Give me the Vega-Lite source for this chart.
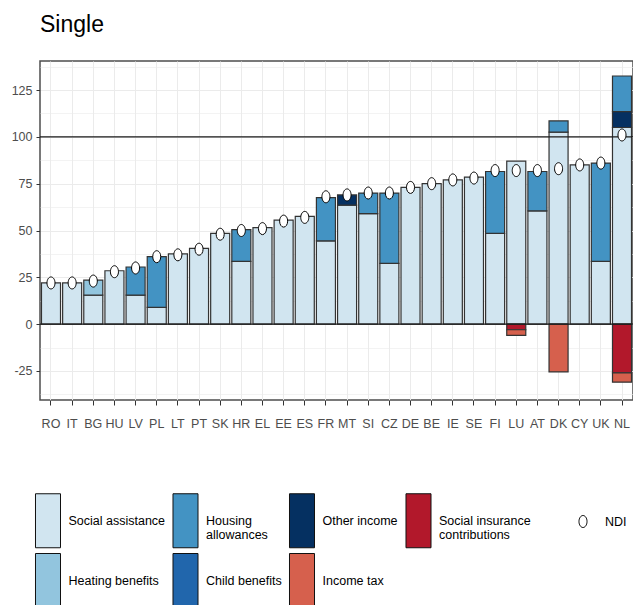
{
  "$schema": "https://vega.github.io/schema/vega-lite/v6.json",
  "width": 593,
  "height": 339,
  "padding": {"left": 0, "top": 14, "right": 0, "bottom": 0},
  "autosize": {"type": "pad"},
  "config": {
    "font": "Liberation Sans",
    "locale": {"number": {"decimal": ".", "thousands": ",", "grouping": [3], "currency": ["$", ""], "minus": "-"}},
    "view": {"stroke": "#4d4d4d", "strokeWidth": 1.5},
    "axis": {
      "labelFont": "Liberation Sans",
      "labelFontSize": 12.5,
      "labelColor": "#4d4d4d",
      "ticks": true,
      "tickColor": "#333333",
      "tickSize": 5,
      "tickWidth": 1,
      "domain": false,
      "gridColor": "#ebebeb"
    },
    "legend": {
      "labelFont": "Liberation Sans",
      "labelFontSize": 12.5,
      "labelColor": "#000000",
      "labelLimit": 300
    }
  },
  "title": {
    "text": "Single",
    "anchor": "start",
    "frame": "group",
    "fontSize": 23,
    "fontWeight": "normal",
    "font": "Liberation Sans",
    "color": "#000000",
    "offset": 24
  },
  "datasets": {
    "bars": [
      {"country": "RO", "component": "Social assistance", "value": 22},
      {"country": "IT", "component": "Social assistance", "value": 22},
      {"country": "BG", "component": "Social assistance", "value": 15.5},
      {"country": "BG", "component": "Heating benefits", "value": 8},
      {"country": "HU", "component": "Social assistance", "value": 28.5},
      {"country": "LV", "component": "Social assistance", "value": 15.5},
      {"country": "LV", "component": "Housing allowances", "value": 15},
      {"country": "PL", "component": "Social assistance", "value": 9},
      {"country": "PL", "component": "Housing allowances", "value": 27},
      {"country": "LT", "component": "Social assistance", "value": 37.5},
      {"country": "PT", "component": "Social assistance", "value": 40.5},
      {"country": "SK", "component": "Social assistance", "value": 48.5},
      {"country": "HR", "component": "Social assistance", "value": 33.5},
      {"country": "HR", "component": "Housing allowances", "value": 17},
      {"country": "EL", "component": "Social assistance", "value": 51.5},
      {"country": "EE", "component": "Social assistance", "value": 55.5},
      {"country": "ES", "component": "Social assistance", "value": 57.5},
      {"country": "FR", "component": "Social assistance", "value": 44.5},
      {"country": "FR", "component": "Housing allowances", "value": 23},
      {"country": "MT", "component": "Social assistance", "value": 63.5},
      {"country": "MT", "component": "Other income", "value": 5.5},
      {"country": "SI", "component": "Social assistance", "value": 59},
      {"country": "SI", "component": "Housing allowances", "value": 11},
      {"country": "CZ", "component": "Social assistance", "value": 32.5},
      {"country": "CZ", "component": "Housing allowances", "value": 37.5},
      {"country": "DE", "component": "Social assistance", "value": 73},
      {"country": "BE", "component": "Social assistance", "value": 75},
      {"country": "IE", "component": "Social assistance", "value": 77},
      {"country": "SE", "component": "Social assistance", "value": 78.5},
      {"country": "FI", "component": "Social assistance", "value": 48.5},
      {"country": "FI", "component": "Housing allowances", "value": 33},
      {"country": "LU", "component": "Social assistance", "value": 87},
      {"country": "LU", "component": "Social insurance contributions", "value": -3},
      {"country": "LU", "component": "Income tax", "value": -3},
      {"country": "AT", "component": "Social assistance", "value": 60.5},
      {"country": "AT", "component": "Housing allowances", "value": 21},
      {"country": "DK", "component": "Social assistance", "value": 102.5},
      {"country": "DK", "component": "Housing allowances", "value": 6},
      {"country": "DK", "component": "Income tax", "value": -25.5},
      {"country": "CY", "component": "Social assistance", "value": 85},
      {"country": "UK", "component": "Social assistance", "value": 33.5},
      {"country": "UK", "component": "Housing allowances", "value": 52.5},
      {"country": "NL", "component": "Social assistance", "value": 105},
      {"country": "NL", "component": "Housing allowances", "value": 19},
      {"country": "NL", "component": "Other income", "value": 8.5},
      {"country": "NL", "component": "Social insurance contributions", "value": -26},
      {"country": "NL", "component": "Income tax", "value": -5}
    ],
    "ndi": [
      {"country": "RO", "series": "NDI", "ndi": 22},
      {"country": "IT", "series": "NDI", "ndi": 22},
      {"country": "BG", "series": "NDI", "ndi": 23},
      {"country": "HU", "series": "NDI", "ndi": 28},
      {"country": "LV", "series": "NDI", "ndi": 30},
      {"country": "PL", "series": "NDI", "ndi": 36},
      {"country": "LT", "series": "NDI", "ndi": 37},
      {"country": "PT", "series": "NDI", "ndi": 40},
      {"country": "SK", "series": "NDI", "ndi": 48},
      {"country": "HR", "series": "NDI", "ndi": 50},
      {"country": "EL", "series": "NDI", "ndi": 51},
      {"country": "EE", "series": "NDI", "ndi": 55},
      {"country": "ES", "series": "NDI", "ndi": 57},
      {"country": "FR", "series": "NDI", "ndi": 68},
      {"country": "MT", "series": "NDI", "ndi": 69},
      {"country": "SI", "series": "NDI", "ndi": 70},
      {"country": "CZ", "series": "NDI", "ndi": 70},
      {"country": "DE", "series": "NDI", "ndi": 73},
      {"country": "BE", "series": "NDI", "ndi": 75},
      {"country": "IE", "series": "NDI", "ndi": 77},
      {"country": "SE", "series": "NDI", "ndi": 78},
      {"country": "FI", "series": "NDI", "ndi": 82},
      {"country": "LU", "series": "NDI", "ndi": 82},
      {"country": "AT", "series": "NDI", "ndi": 82},
      {"country": "DK", "series": "NDI", "ndi": 83},
      {"country": "CY", "series": "NDI", "ndi": 85},
      {"country": "UK", "series": "NDI", "ndi": 86},
      {"country": "NL", "series": "NDI", "ndi": 101}
    ]
  },
  "resolve": {"axis": {"y": "independent"}},
  "layer": [
    {
      "data": {"name": "bars"},
      "mark": {"type": "bar", "stroke": "#333333", "strokeWidth": 1.2},
      "encoding": {
        "x": {
          "field": "country",
          "type": "nominal",
          "sort": ["RO", "IT", "BG", "HU", "LV", "PL", "LT", "PT", "SK", "HR", "EL", "EE", "ES", "FR", "MT", "SI", "CZ", "DE", "BE", "IE", "SE", "FI", "LU", "AT", "DK", "CY", "UK", "NL"],
          "scale": {"paddingInner": 0.1, "paddingOuter": 0.07},
          "title": null,
          "axis": {"labelAngle": 0, "labelPadding": 12, "grid": true, "gridWidth": 1}
        },
        "y": {
          "field": "value",
          "type": "quantitative",
          "stack": "zero",
          "title": null,
          "scale": {"domain": [-40.5, 140.5], "nice": false, "zero": false},
          "axis": {
            "orient": "left",
            "values": [-25, 0, 25, 50, 75, 100, 125],
            "labelPadding": 4,
            "tickSize": 4,
            "minExtent": 40,
            "maxExtent": 40,
            "grid": true,
            "gridWidth": 1
          }
        },
        "color": {
          "field": "component",
          "type": "nominal",
          "sort": ["Social assistance", "Heating benefits", "Housing allowances", "Child benefits", "Other income", "Social insurance contributions", "Income tax"],
          "scale": {
            "domain": ["Social assistance", "Housing allowances", "Other income", "Social insurance contributions", "Heating benefits", "Child benefits", "Income tax"],
            "range": ["#d1e5f0", "#4393c3", "#053061", "#b2182b", "#92c5de", "#2166ac", "#d6604d"]
          },
          "legend": {
            "orient": "none",
            "legendX": -4.5,
            "legendY": 432,
            "direction": "horizontal",
            "columns": 4,
            "title": null,
            "symbolType": "M-0.463,-1L0.463,-1L0.463,1L-0.463,1Z",
            "symbolSize": 2916,
            "symbolOffset": -15,
            "symbolStrokeColor": "#111111",
            "symbolStrokeWidth": 1,
            "symbolOpacity": 1,
            "labelOffset": -7,
            "columnPadding": 4.5,
            "rowPadding": 1,
            "labelExpr": "datum.label == 'Housing allowances' ? ['Housing', 'allowances'] : datum.label == 'Social insurance contributions' ? ['Social insurance', 'contributions'] : datum.label"
          }
        }
      }
    },
    {
      "data": {"values": [{"ref": 0}, {"ref": 100}]},
      "mark": {"type": "rule", "color": "#1a1a1a", "strokeWidth": 1.3},
      "encoding": {
        "y": {
          "field": "ref",
          "type": "quantitative",
          "title": null,
          "scale": {"domain": [-40.5, 140.5], "nice": false, "zero": false},
          "axis": {
            "orient": "right",
            "values": [-37.5, -12.5, 12.5, 37.5, 62.5, 87.5, 112.5, 137.5],
            "labels": false,
            "ticks": false,
            "domain": false,
            "grid": true,
            "gridWidth": 0.6,
            "minExtent": 0,
            "maxExtent": 0
          }
        }
      }
    },
    {
      "data": {"name": "ndi"},
      "mark": {
        "type": "point",
        "shape": "M0,-1A0.67,1,0,1,1,0,1A0.67,1,0,1,1,0,-1Z",
        "filled": false,
        "fill": "white",
        "strokeWidth": 1,
        "size": 144,
        "opacity": 1
      },
      "encoding": {
        "x": {
          "field": "country",
          "type": "nominal",
          "sort": ["RO", "IT", "BG", "HU", "LV", "PL", "LT", "PT", "SK", "HR", "EL", "EE", "ES", "FR", "MT", "SI", "CZ", "DE", "BE", "IE", "SE", "FI", "LU", "AT", "DK", "CY", "UK", "NL"],
          "title": null
        },
        "y": {
          "field": "ndi",
          "type": "quantitative",
          "title": null,
          "scale": {"domain": [-40.5, 140.5], "nice": false, "zero": false},
          "axis": null
        },
        "stroke": {
          "field": "series",
          "type": "nominal",
          "scale": {"domain": ["NDI"], "range": ["#000000"]},
          "legend": {
            "orient": "none",
            "legendX": 536.5,
            "legendY": 454,
            "title": null,
            "symbolType": "M0,-1A0.67,1,0,1,1,0,1A0.67,1,0,1,1,0,-1Z",
            "symbolSize": 144,
            "symbolFillColor": "white",
            "symbolStrokeWidth": 1,
            "symbolOpacity": 1,
            "labelOffset": 15.5
          }
        }
      }
    }
  ]
}
